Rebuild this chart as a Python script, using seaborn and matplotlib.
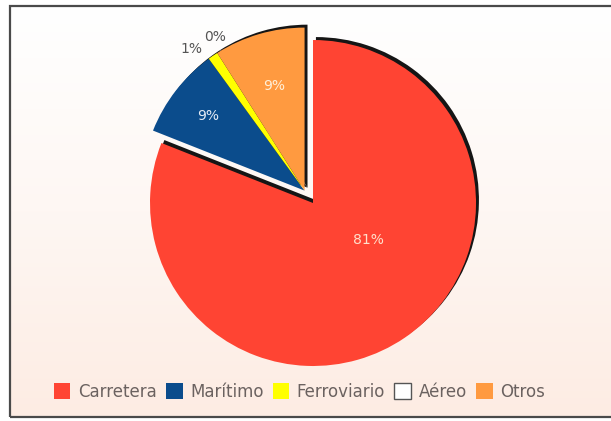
import numpy as np
import matplotlib
matplotlib.use("Agg")
import matplotlib.pyplot as plt
from matplotlib.patches import Wedge, Patch, Rectangle
import seaborn as sns

# Modal split of freight transport (%)
modes = ["Carretera", "Marítimo", "Ferroviario", "Aéreo", "Otros"]
shares = [81, 9, 1, 0, 9]
colors = ["#ff4433", "#0b4c8c", "#ffff00", "#ffffff", "#ff9a40"]
legend_edges = ["none", "none", "none", "#555555", "none"]
pct_colors = ["#ffe0cc", "#e6ecf5", "#555555", "#555555", "#fff0d8"]
pct_dist = [0.41, 0.75, 1.11, 1.09, 0.67]
pct_frac = [0.575, 0.5, 0.5, 0.5, 0.5]
pct_turn = [0, 0, 4.5, -2.0, 0]  # degrees, keeps the two tiny labels apart

sns.set_theme(style="white")
plt.rcParams["font.family"] = ["DejaVu Sans"]

W, H = 611, 421
fig = plt.figure(figsize=(W / 100, H / 100), dpi=100)
fig.patch.set_facecolor("white")

# soft white-to-peach background inside the frame
bg = fig.add_axes([10 / W, 4 / H, 1 - 10 / W, 411 / H], zorder=0)
grad = np.linspace(0, 1, 256).reshape(-1, 1)
cmap = matplotlib.colors.LinearSegmentedColormap.from_list(
    "bg", ["#fdece3", "#fef7f3", "#ffffff"])
bg.imshow(grad, aspect="auto", cmap=cmap, origin="lower", extent=[0, 1, 0, 1])
bg.set_axis_off()

fig.add_artist(Rectangle((10 / W, 4 / H), 1.0, 411 / H, transform=fig.transFigure,
                         fill=False, edgecolor="#4a4a4a", linewidth=1.6, zorder=5))

R = 163
size = 420
ax = fig.add_axes([(313 - size / 2) / W, (H - 203 - size / 2) / H, size / W, size / H],
                  zorder=1)
ax.set_facecolor("none")

wedges, _ = ax.pie(shares, colors=colors, startangle=90, counterclock=False,
                   radius=1.0, wedgeprops=dict(linewidth=0))
lim = size / 2 / R
ax.set_xlim(-lim, lim)
ax.set_ylim(-lim, lim)
ax.set_aspect("equal")
ax.set_axis_off()

# pull the four minor modes out together along their common bisector
minor = wedges[1:]
t_lo = min(w.theta1 for w in minor)
t_hi = max(w.theta2 for w in minor)
mid = np.deg2rad((t_lo + t_hi) / 2)
explode = 0.092
dx, dy = explode * np.cos(mid), explode * np.sin(mid)
for w in minor:
    w.set_center((w.center[0] + dx, w.center[1] + dy))

# dark drop shadow up and to the right of every wedge
so = 0.018
for w in wedges:
    if w.theta2 - w.theta1 <= 0:
        continue
    cx, cy = w.center
    ax.add_patch(Wedge((cx + so, cy + so), w.r, w.theta1, w.theta2,
                       facecolor="#151515", edgecolor="none", zorder=0.5))
for w in wedges:
    w.set_zorder(1)

for w, s, d, f, t, c in zip(wedges, shares, pct_dist, pct_frac, pct_turn, pct_colors):
    ang = np.deg2rad(w.theta1 + f * (w.theta2 - w.theta1) + t)
    cx, cy = w.center
    ax.text(cx + d * np.cos(ang), cy + d * np.sin(ang), f"{s}%",
            ha="center", va="center", fontsize=10, color=c, zorder=3)

handles = [Patch(facecolor=c, edgecolor=e, linewidth=1.0)
           for c, e in zip(colors, legend_edges)]
fig.legend(handles, modes, loc="center", bbox_to_anchor=(0.49, 0.069), ncol=5,
           frameon=False, fontsize=12, handlelength=1.0, handleheight=1.1,
           handletextpad=0.45, columnspacing=0.55, labelcolor="#6b6260")

fig.savefig("out.png", dpi=100)
